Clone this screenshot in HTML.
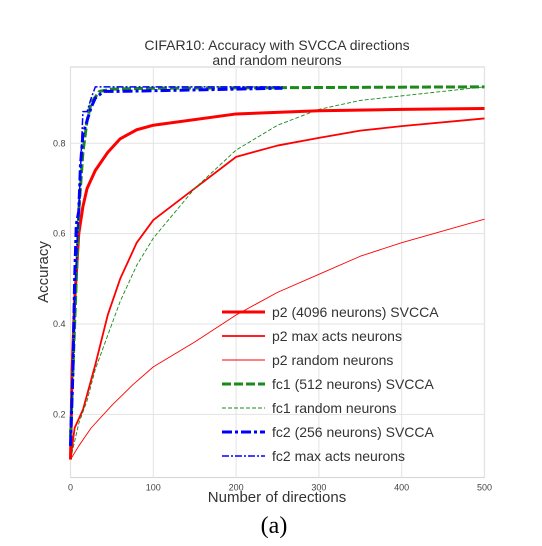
<!DOCTYPE html>
<html><head><meta charset="utf-8"><style>
body{margin:0;background:#fff;}
svg text{font-family:"Liberation Sans",sans-serif;}
</style></head><body>
<svg id="chart" width="542" height="541" xmlns="http://www.w3.org/2000/svg">
<text x="277" y="50" text-anchor="middle" font-size="14" fill="#333">CIFAR10: Accuracy with SVCCA directions</text>
<text x="277" y="65" text-anchor="middle" font-size="14" fill="#333">and random neurons</text>
<g id="grid"></g>
<g id="series"></g>
<g id="ticks"></g>
<text transform="translate(48,272) rotate(-90)" text-anchor="middle" font-size="15" fill="#333">Accuracy</text>
<text x="277" y="502" text-anchor="middle" font-size="15" fill="#333">Number of directions</text>
<text x="274" y="533" text-anchor="middle" font-size="24" fill="#000" style="font-family:'Liberation Serif',serif">(a)</text>
<g id="legend"></g>
</svg>
<script>
const xTicks=[0,100,200,300,400,500];
const yTicks=[0.2,0.4,0.6,0.8];
const p2SvccaX=[0,2,5,10,15,20,30,45,60,80,100,200,300,400,500];
const p2SvccaY=[0.1,0.3,0.45,0.6,0.66,0.7,0.74,0.78,0.81,0.83,0.84,0.865,0.872,0.875,0.877];
const p2MaxX=[0,5,15,30,45,60,80,100,150,200,250,300,350,400,500];
const p2MaxY=[0.1,0.17,0.21,0.31,0.42,0.5,0.58,0.63,0.7,0.77,0.795,0.812,0.828,0.838,0.855];
const p2RandX=[0,10,25,50,75,100,150,200,250,300,350,400,500];
const p2RandY=[0.1,0.13,0.17,0.22,0.265,0.305,0.36,0.42,0.47,0.51,0.55,0.58,0.632];
const fc1SvccaX=[0,5,10,15,20,25,35,50,100,500];
const fc1SvccaY=[0.15,0.4,0.65,0.78,0.85,0.89,0.915,0.92,0.922,0.925];
const fc1RandX=[0,10,20,30,40,60,80,100,150,200,250,300,350,400,500];
const fc1RandY=[0.1,0.18,0.23,0.3,0.35,0.45,0.53,0.59,0.7,0.785,0.84,0.875,0.895,0.905,0.925];
const fc2SvccaX=[0,3,5,7,10,12,15,20,25,30,40,60,256];
const fc2SvccaY=[0.13,0.3,0.5,0.62,0.65,0.75,0.82,0.85,0.88,0.9,0.915,0.915,0.922];
const fc2MaxX=[0,5,10,15,20,25,30,50,256];
const fc2MaxY=[0.15,0.45,0.65,0.87,0.87,0.9,0.925,0.925,0.925];
const seriesNames=["p2 (4096 neurons) SVCCA","p2 max acts neurons","p2 random neurons","fc1 (512 neurons) SVCCA","fc1 random neurons","fc2 (256 neurons) SVCCA","fc2 max acts neurons"];

const L=70.5,R=484.5,T=67,B=477.5;
const xs=v=>L+(v/500)*(R-L);
const ys=v=>143.3+(0.8-v)*451.7;
const NS="http://www.w3.org/2000/svg";
function mk(tag,attrs,parent){const e=document.createElementNS(NS,tag);for(const k in attrs)e.setAttribute(k,attrs[k]);parent.appendChild(e);return e;}
const grid=document.getElementById('grid'),ticks=document.getElementById('ticks');
mk('rect',{x:L,y:T,width:R-L,height:B-T,fill:'#fff',stroke:'#d8d8d8','stroke-width':1.2},grid);
xTicks.forEach(t=>{const g=mk('line',{x1:xs(t),x2:xs(t),y1:T,y2:B,stroke:'#e3e3e3','stroke-width':1},grid);


const tx=mk('text',{x:xs(t),y:B+13,'text-anchor':'middle','font-size':9,fill:'#444'},ticks);tx.textContent=t;

});
yTicks.forEach(t=>{const g=mk('line',{x1:L,x2:R,y1:ys(t),y2:ys(t),stroke:'#e3e3e3','stroke-width':1},grid);


const tx=mk('text',{x:L-5,y:ys(t)+3,'text-anchor':'end','font-size':9,fill:'#444'},ticks);tx.textContent=t.toFixed(1);

});
const styles=[
 {c:'#ff0000',w:3,d:''},{c:'#ff0000',w:1.8,d:''},{c:'#ff0000',w:0.9,d:''},
 {c:'#1a8a1a',w:3,d:'9,3'},{c:'#1a8a1a',w:0.9,d:'4,2'},
 {c:'#0000ff',w:3,d:'10,3,3,3'},{c:'#0000ff',w:1.5,d:'7,2,2,2'}];
const data=[[p2SvccaX,p2SvccaY],[p2MaxX,p2MaxY],[p2RandX,p2RandY],[fc1SvccaX,fc1SvccaY],[fc1RandX,fc1RandY],[fc2SvccaX,fc2SvccaY],[fc2MaxX,fc2MaxY]];
const ser=document.getElementById('series');
const ids=['p2-svcca-line','p2-max-acts-line','p2-random-line','fc1-svcca-line','fc1-random-line','fc2-svcca-line','fc2-max-acts-line'];
const order=[2,1,4,0,3,6,5];
order.forEach(i=>{const [X,Y]=data[i];const s=styles[i];
const p=mk('polyline',{points:X.map((x,j)=>xs(x)+','+ys(Y[j])).join(' '),fill:'none',stroke:s.c,'stroke-width':s.w,'stroke-dasharray':s.d,'stroke-linejoin':'round'},ser);

});
const leg=document.getElementById('legend');
seriesNames.forEach((n,i)=>{const y=312+i*24;const s=styles[i];
const g=mk('g',{},leg);


mk('line',{x1:222,x2:265,y1:y,y2:y,stroke:s.c,'stroke-width':s.w,'stroke-dasharray':s.d},g);
const t=mk('text',{x:272,y:y+5,'font-size':14,fill:'#333'},g);t.textContent=n;});
</script>
</body></html>
